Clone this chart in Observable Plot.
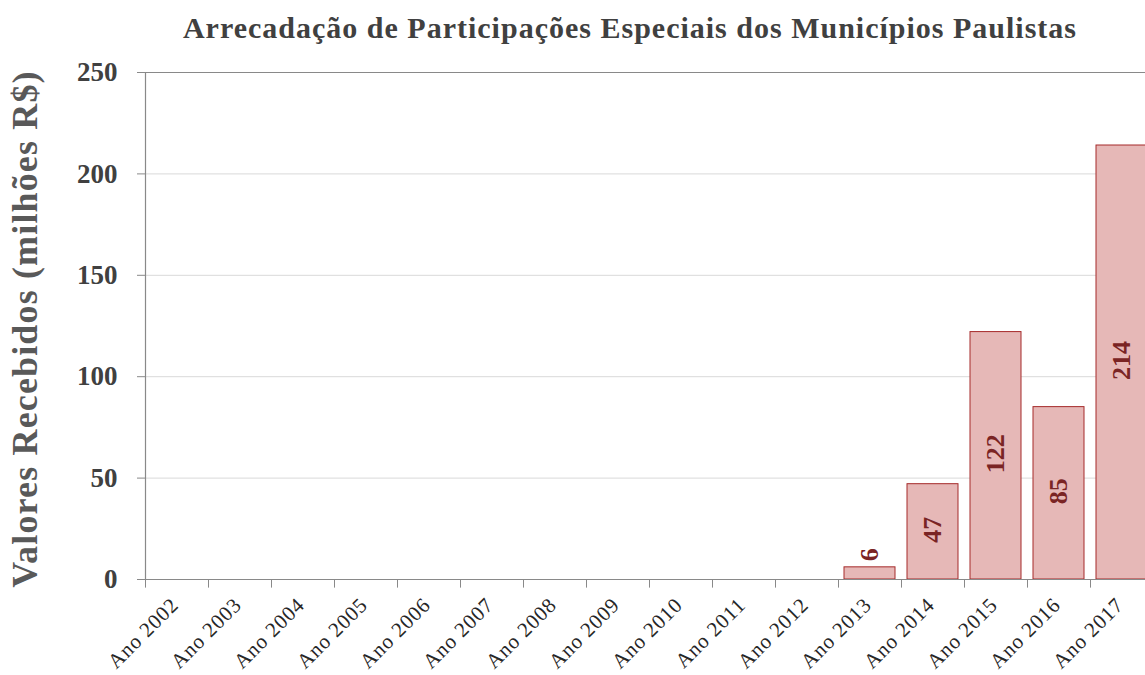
<!DOCTYPE html>
<html>
<head>
<meta charset="utf-8">
<script src="https://cdn.jsdelivr.net/npm/d3@7"></script>
<script src="https://cdn.jsdelivr.net/npm/@observablehq/plot@0.6"></script>
<style>
  html, body { margin: 0; padding: 0; background: #fff; overflow: hidden; }
  #title {
    box-sizing: border-box;
    width: 1145px; height: 55px;
    padding-left: 115px;
    text-align: center;
    font-family: "Liberation Serif", "DejaVu Serif", serif;
    font-weight: bold;
    font-size: 30px;
    letter-spacing: 1px;
    color: #404040;
    line-height: 56px;
    white-space: nowrap;
  }
  svg { display: block; overflow: hidden; }
</style>
</head>
<body>
<div id="title">Arrecadação de Participações Especiais dos Municípios Paulistas</div>
<div id="chart"></div>
<script>
const years = ["Ano 2002","Ano 2003","Ano 2004","Ano 2005","Ano 2006","Ano 2007","Ano 2008","Ano 2009",
               "Ano 2010","Ano 2011","Ano 2012","Ano 2013","Ano 2014","Ano 2015","Ano 2016","Ano 2017"];
const values = [0,0,0,0,0,0,0,0,0,0,0,6,47,122,85,214];
const yTicks = [0,50,100,150,200,250];
const gridValues = [50,100,150,200];
const yTitle = "Valores Recebidos (milhões R$)";

const data = years.map((ano, i) => ({ano, valor: values[i]}));
const nonZero = data.filter(d => d.valor > 0);
const smallLabels = nonZero.filter(d => d.valor < 20);
const bigLabels = nonZero.filter(d => d.valor >= 20);

const step = 63;
const axisColor = "#898989";
const serif = "Liberation Serif";
const labelColor = "#7a2424";

const chart = Plot.plot({
  width: 1145,
  height: 620,
  marginTop: 17,
  marginBottom: 96,
  marginLeft: 145,
  marginRight: 0,
  style: {fontFamily: serif, background: "white"},
  x: {type: "band", domain: years, range: [145, 145 + step * 16], paddingInner: 0.19, paddingOuter: 0.095, axis: null},
  y: {domain: [0, 250], axis: null},
  marks: [
    Plot.ruleY(gridValues, {y: d => d, stroke: "#d9d9d9", strokeWidth: 1}),
    Plot.ruleY([250], {y: d => d, stroke: axisColor, strokeWidth: 1}),
    Plot.barY(nonZero, {x: "ano", y: "valor", fill: "#e6b8b7", stroke: "#a52a2a", strokeWidth: 1}),
    Plot.ruleY([0], {y: d => d, stroke: axisColor, strokeWidth: 1.2}),
    Plot.ruleX([years[0]], {x: d => d, dx: -step / 2, y1: 0, y2: 250, stroke: axisColor, strokeWidth: 1.2}),
    // y tick marks
    Plot.tickY(yTicks, {y: d => d, insetLeft: -8, insetRight: 1000, stroke: axisColor}),
    // x tick marks at band boundaries
    Plot.link(years, {x1: d => d, x2: d => d, y1: 0, y2: -4, dx: -step / 2, stroke: axisColor}),
    // y tick labels
    Plot.text(yTicks, {y: d => d, frameAnchor: "left", dx: -28, textAnchor: "end", text: d => String(d),
      fontSize: 27, fontWeight: "bold", fill: "#404040"}),
    // x tick labels
    Plot.text(years, {x: d => d, y: 0, text: d => d, rotate: -45, textAnchor: "end", dx: -2, dy: 22,
      fontSize: 21, fontWeight: "normal", fill: "#262626"}),
    // y axis title
    Plot.text([yTitle], {frameAnchor: "left", text: d => d, rotate: -90, textAnchor: "middle", dx: -120, dy: 3,
      fontSize: 36, fontWeight: "bold", fill: "#595959"}),
    // value labels
    Plot.text(bigLabels, {x: "ano", y: d => d.valor / 2, text: d => String(d.valor), rotate: -90, dy: -2,
      fontSize: 26, fontWeight: "bold", fill: labelColor}),
    Plot.text(smallLabels, {x: "ano", y: "valor", text: d => String(d.valor), rotate: -90, textAnchor: "start", dy: -6,
      fontSize: 26, fontWeight: "bold", fill: labelColor})
  ]
});
d3.select(chart).selectAll("text")
  .filter(function () { return years.includes(this.textContent); })
  .attr("letter-spacing", "0.8")
  .style("letter-spacing", "0.8px");
d3.select(chart).selectAll("text")
  .filter(function () { return this.textContent === yTitle; })
  .attr("letter-spacing", "1.15")
  .style("letter-spacing", "1.15px");
document.getElementById("chart").appendChild(chart);
</script>
</body>
</html>
